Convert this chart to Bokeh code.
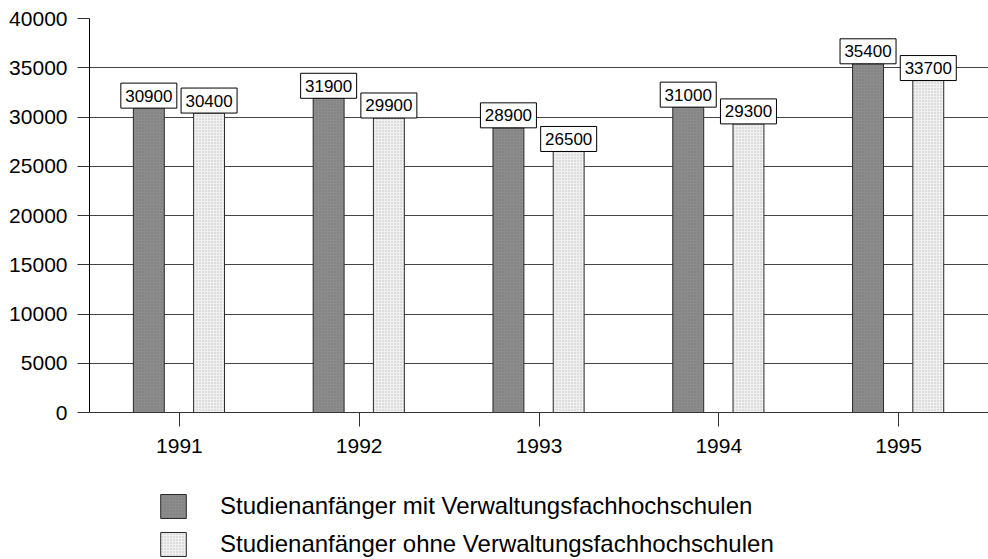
from bokeh.plotting import figure
from bokeh.layouts import column
from bokeh.core.properties import value
from bokeh.models import (ColumnDataSource, FactorRange, LabelSet, Legend, LegendItem,
                          SingleIntervalTicker, Range1d)
from bokeh.transform import dodge
from bokeh.embed import file_html
from bokeh.resources import INLINE

years = ["1991", "1992", "1993", "1994", "1995"]
mit = [30900, 31900, 28900, 31000, 35400]
ohne = [30400, 29900, 26500, 29300, 33700]
series_names = ["Studienanfänger mit Verwaltungsfachhochschulen",
                "Studienanfänger ohne Verwaltungsfachhochschulen"]

FONT = "Liberation Sans"
Y_MAX = 40000
FRAME_H = 394
BOX_H = 25
half_box = BOX_H / 2 * Y_MAX / FRAME_H

DARK = dict(fill_color="#8c8c8c", line_color="#2a2a2a", line_width=1,
            hatch_pattern="dot", hatch_color="#6a6a6a", hatch_scale=3, hatch_alpha=0.6)
LIGHT = dict(fill_color="#f0f0f0", line_color="#2a2a2a", line_width=1,
             hatch_pattern="dot", hatch_color="#b5b5b5", hatch_scale=3, hatch_alpha=0.8)

src = ColumnDataSource(data=dict(year=years, mit=mit, ohne=ohne,
                                 mit_t=[str(v) for v in mit], ohne_t=[str(v) for v in ohne],
                                 mit_b=[v + half_box for v in mit], ohne_b=[v + half_box for v in ohne]))

p = figure(width=988, height=472, x_range=FactorRange(*years), y_range=(0, Y_MAX),
           output_backend="svg", toolbar_location=None,
           min_border_left=89, min_border_right=0, min_border_top=18, min_border_bottom=60)
p.outline_line_color = None
p.background_fill_color = "white"

r1 = p.vbar(x=dodge("year", -0.17, range=p.x_range), top="mit", width=0.172, source=src, **DARK)
r2 = p.vbar(x=dodge("year", 0.165, range=p.x_range), top="ohne", width=0.172, source=src, **LIGHT)

for col, off in (("mit", -0.17), ("ohne", 0.165)):
    p.rect(x=dodge("year", off, range=p.x_range), y=col + "_b", width=56, height=BOX_H,
           width_units="screen", height_units="screen", source=src,
           fill_color="white", line_color="black", line_width=1)
    ls = LabelSet(x=dodge("year", off, range=p.x_range), y=col, text=col + "_t", source=src,
                  text_align="center", text_baseline="middle", text_font=value(FONT),
                  text_font_size="17px", text_color="black", y_offset=BOX_H / 2)
    p.add_layout(ls)

p.yaxis.ticker = SingleIntervalTicker(interval=5000)
p.yaxis.minor_tick_line_color = None
p.yaxis.major_tick_out = 12
p.yaxis.major_tick_in = 0
p.yaxis.major_label_standoff = 10
p.yaxis.major_label_text_font = FONT
p.yaxis.major_label_text_font_size = "21px"
p.yaxis.major_label_text_color = "black"
p.yaxis.axis_line_color = "black"
p.yaxis.major_tick_line_color = "#333333"

p.xaxis.major_tick_out = 14
p.xaxis.major_tick_in = 0
p.xaxis.major_label_standoff = 12
p.xaxis.major_label_text_font = FONT
p.xaxis.major_label_text_font_size = "21px"
p.xaxis.major_label_text_color = "black"
p.xaxis.axis_line_color = "#333333"
p.xaxis.major_tick_line_color = "#333333"

p.xgrid.grid_line_color = None
p.ygrid.grid_line_color = "#444444"
p.ygrid.grid_line_width = 1

# legend panel below the chart (swatch renderers have zero size, only their style is used)
lg = figure(width=988, height=87, x_range=Range1d(0, 1), y_range=Range1d(0, 1),
            x_axis_location=None, y_axis_location=None,
            output_backend="svg", toolbar_location=None,
            min_border_left=0, min_border_right=0, min_border_top=0, min_border_bottom=0)
lg.grid.visible = False
lg.outline_line_color = None
swatch = ColumnDataSource(data=dict(x=[0.95], top=[0.5], bottom=[0.5]))
g1 = lg.vbar(x="x", top="top", bottom="bottom", width=0, source=swatch, **DARK)
g2 = lg.vbar(x="x", top="top", bottom="bottom", width=0, source=swatch, **LIGHT)

legend = Legend(items=[LegendItem(label=series_names[0], renderers=[g1]),
                       LegendItem(label=series_names[1], renderers=[g2])],
                location=(68, 0), orientation="vertical",
                glyph_width=32, glyph_height=30, spacing=8, label_standoff=31,
                label_text_font=FONT, label_text_font_size="24px", label_height=30,
                label_text_color="black",
                border_line_color=None, background_fill_alpha=0,
                padding=0, margin=0)
lg.add_layout(legend)

layout = column(p, lg, spacing=0)
open("out.html", "w").write(file_html(layout, INLINE))
